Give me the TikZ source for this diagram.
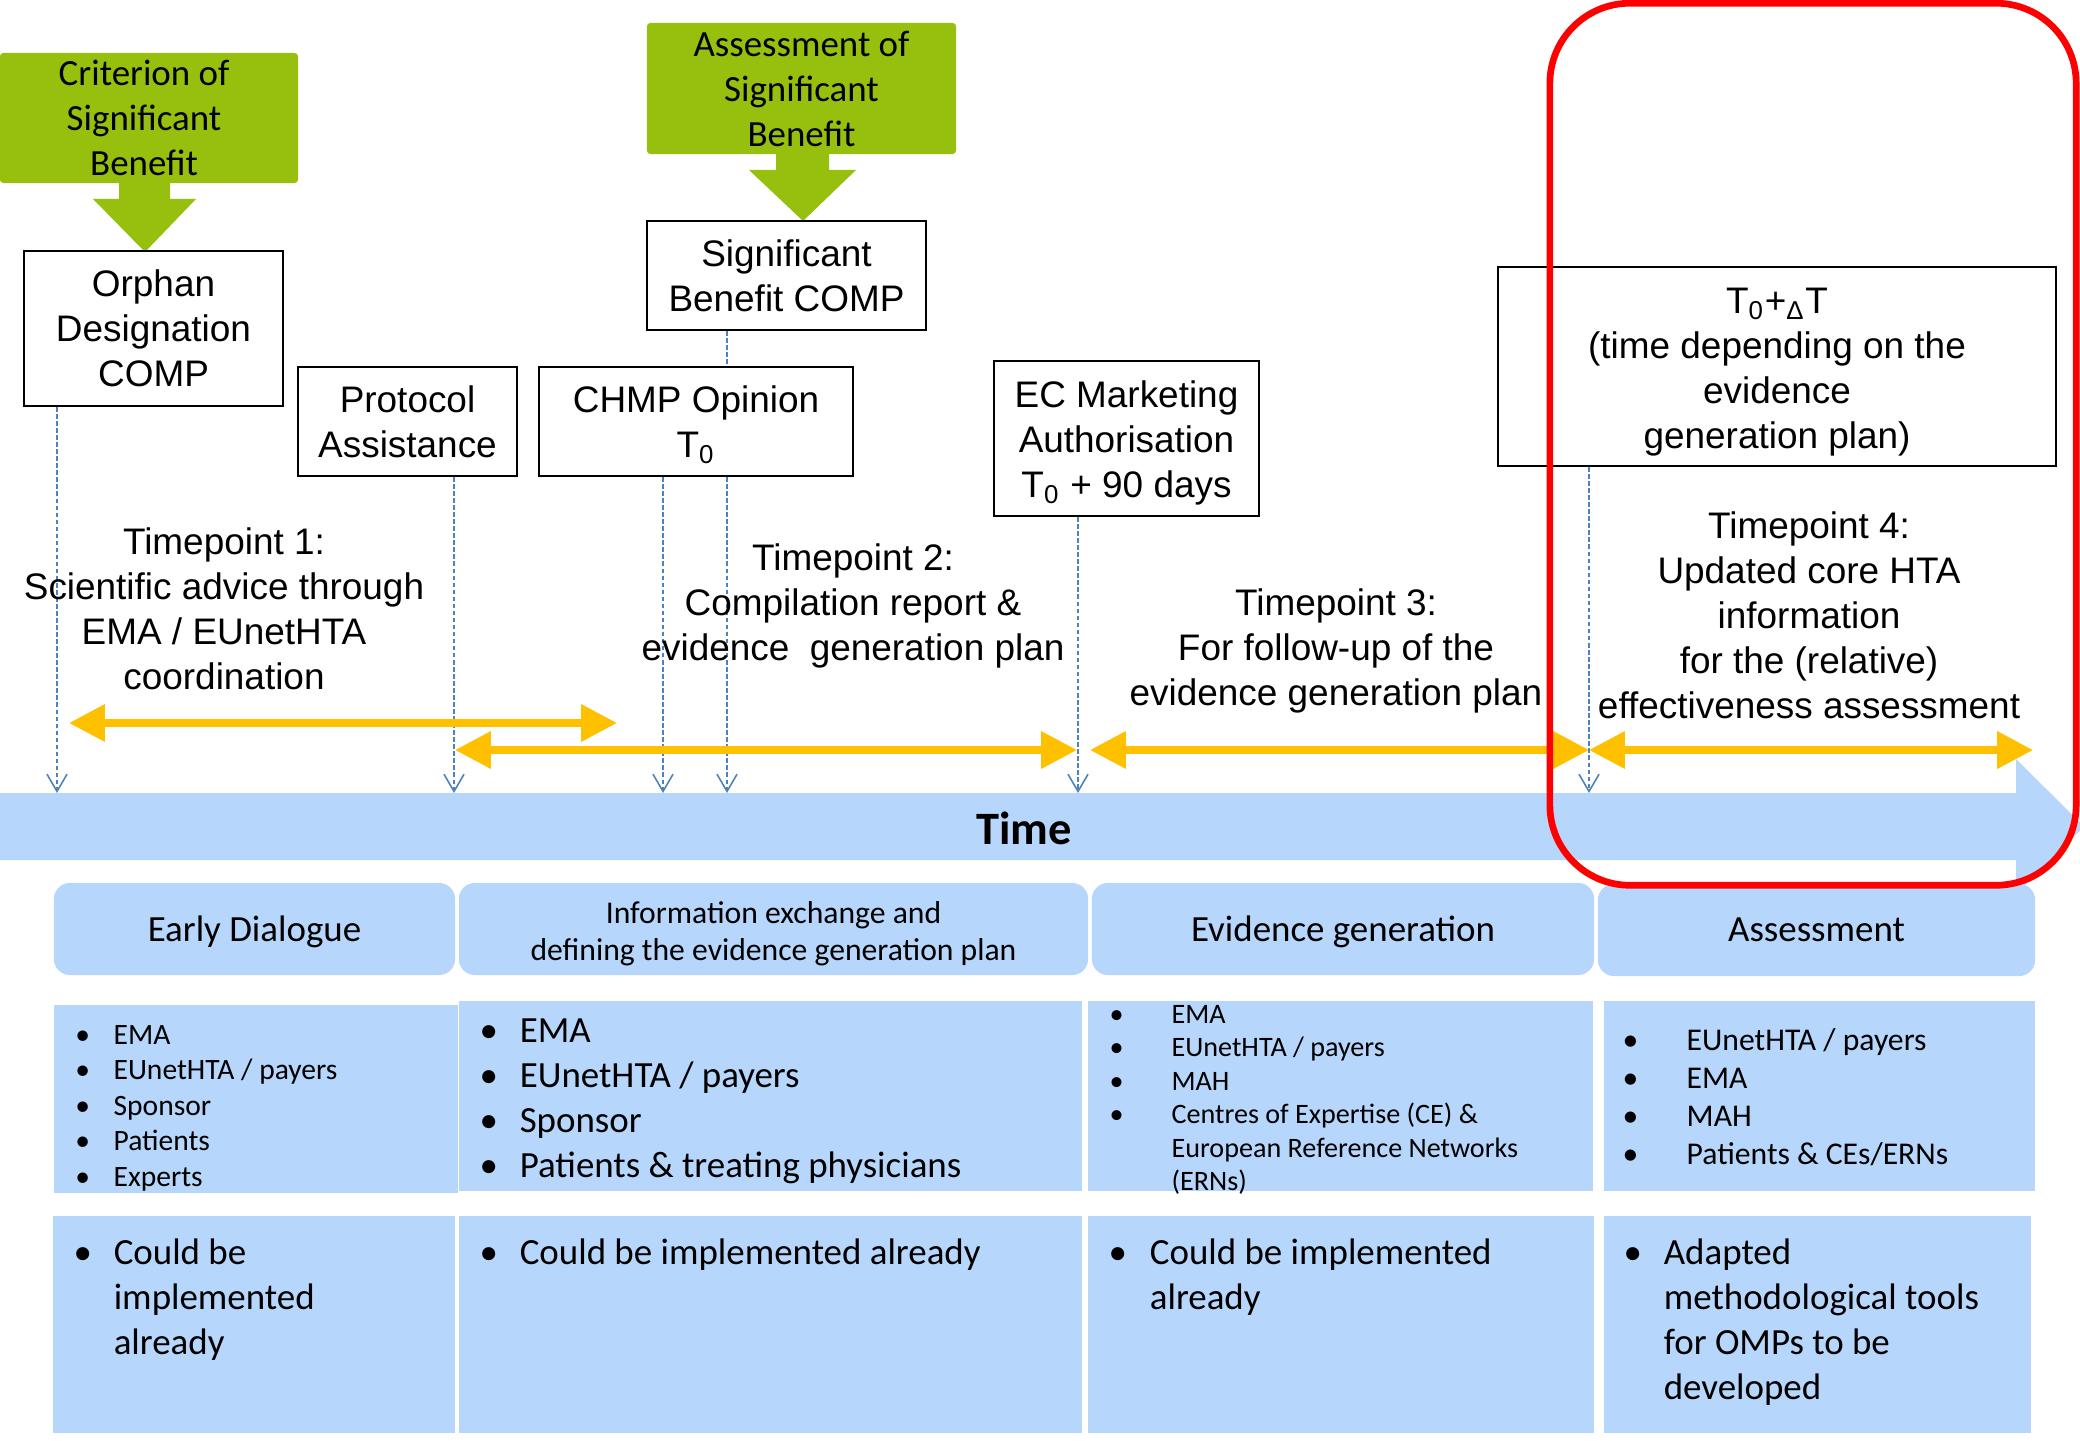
\documentclass[tikz,border=0pt]{standalone}
\usepackage{fontspec}
\setmainfont{Liberation Sans}
\newfontfamily\calib{Carlito}
\usetikzlibrary{arrows.meta}
\definecolor{sgreen}{HTML}{97BF0D}
\definecolor{lblue}{HTML}{B6D6FB}
\definecolor{yel}{HTML}{FFC000}
\definecolor{dblue}{HTML}{4F81BD}
\definecolor{rred}{HTML}{FF0000}
\newcommand{\upstrut}[1]{\rule{0pt}{#1}}
\newcommand{\shl}{\rule{2.8pt}{0pt}}
\tikzset{
  ar/.style={font=\fontsize{10.5pt}{12.8pt}\selectfont},
  cal/.style={font=\calib\fontsize{10.5pt}{12.8pt}\selectfont},
  wbox/.style={draw=black, line width=0.6pt, fill=white, align=center, inner sep=0pt, ar},
  gbox/.style={fill=sgreen, rounded corners=1pt, align=center, inner sep=0pt, cal},
  hbox/.style={fill=lblue, rounded corners=0.16cm, align=center, inner sep=0pt, cal},
  cbox/.style={fill=lblue, inner sep=0pt},
  garrow/.style={fill=sgreen},
  dasharrow/.style={draw=dblue, line width=0.45pt, dash pattern=on 1.3pt off 0.7pt, -{Straight Barb[length=4.9pt,width=5.7pt]}},
  dashline/.style={draw=dblue, line width=0.45pt, dash pattern=on 1.3pt off 0.7pt},
  yarrow/.style={draw=yel, line width=2.0pt, {Triangle[length=10.2pt,width=10.2pt]}-{Triangle[length=10.2pt,width=10.2pt]}},
  redbox/.style={draw=rred, line width=1.9pt, rounded corners=0.8cm, inner sep=0pt},
  tptext/.style={align=center, inner sep=0pt, ar},
  blist/.style={inner sep=0pt, anchor=base west},
}
\begin{document}
\begin{tikzpicture}[x=0.01cm, y=-0.01cm]
\useasboundingbox (0,0) rectangle (2080,1440);

% time bar
\fill[lblue] (0,793) -- (2016,793) -- (2016,759) -- (2084,826.5) -- (2016,894) -- (2016,860) -- (0,860) -- cycle;
\node[font=\calib\bfseries\fontsize{13.2pt}{15pt}\selectfont, inner sep=0pt] (time) at (1024,828) {Time};

% anchor coordinates on the time bar
\coordinate (a1) at (57,793);
\coordinate (a2) at (454,793);
\coordinate (a3) at (663,793);
\coordinate (a4) at (727,793);
\coordinate (a5) at (1078,793);
\coordinate (a6) at (1589,793);

% green boxes and arrows
\node[gbox, minimum width=2.98cm, minimum height=1.30cm] (g1) at (149,118) {Criterion of\shl\\Significant\shl\\Benefit\shl};
\node[gbox, minimum width=3.09cm, minimum height=1.31cm] (g2) at (801.5,88.5) {Assessment of\\Significant\\Benefit};
\fill[garrow] (119,182) -- (170,182) -- (170,199) -- (196,199) -- (145,252) -- (93,199) -- (119,199) -- cycle;
\fill[garrow] (776,153) -- (829,153) -- (829,170) -- (856,170) -- (803,221) -- (749,170) -- (776,170) -- cycle;

% milestone boxes
\node[wbox, minimum width=2.59cm, minimum height=1.55cm] (orph) at (153.5,328.5) {Orphan\\Designation\\COMP};
\node[wbox, minimum width=2.19cm, minimum height=1.09cm] (prot) at (407.5,421.5) {Protocol\\Assistance};
\node[wbox, minimum width=2.79cm, minimum height=1.09cm] (sigb) at (786.5,275.5) {Significant\\Benefit COMP};
\node[wbox, minimum width=3.14cm, minimum height=1.09cm] (chmp) at (696,421.5) {\upstrut{9.5pt}CHMP Opinion\\T\textsubscript{0}};
\node[wbox, minimum width=2.65cm, minimum height=1.55cm] (ecma) at (1126.5,438.5) {\upstrut{10pt}EC Marketing\\Authorisation\\T\textsubscript{0} + 90 days};
\node[wbox, minimum width=5.58cm, minimum height=1.99cm] (tdel) at (1777,366.5) {\upstrut{10.6pt}T\textsubscript{0}+\textsubscript{Δ}T\\(time depending on the\\evidence\\generation plan)};

% dashed connectors
\draw[dasharrow] (a1 |- orph.south) -- (a1);
\draw[dasharrow] (a2 |- prot.south) -- (a2);
\draw[dasharrow] (a3 |- chmp.south) -- (a3);
\draw[dashline] (a4 |- sigb.south) -- (a4 |- chmp.north);
\draw[dasharrow] (a4 |- chmp.south) -- (a4);
\draw[dasharrow] (a5 |- ecma.south) -- (a5);
\draw[dasharrow] (a6 |- tdel.south) -- (a6);

% timepoint texts
\node[tptext] (tp1) at (224,609) {Timepoint 1:\\Scientific advice through\\EMA / EUnetHTA\\coordination};
\node[tptext] (tp2) at (853,606) {Timepoint 2:\\Compilation report \&\\evidence\ \ generation plan};
\node[tptext] (tp3) at (1336,651) {Timepoint 3:\\For follow-up of the\\evidence generation plan};
\node[tptext] (tp4) at (1809,615.5) {Timepoint 4:\\Updated core HTA\\information\\for the (relative)\\effectiveness assessment};

% yellow period arrows
\coordinate (y1l) at (69,723);   \coordinate (y1r) at (617,723);
\coordinate (y2l) at (455,750);  \coordinate (y2r) at (1077,750);
\coordinate (y3l) at (1090,750); \coordinate (y3r) at (1589,750);
\coordinate (y4l) at (1589,750); \coordinate (y4r) at (2033,750);
\draw[yarrow] (y1l) -- (y1r);
\draw[yarrow] (y2l) -- (y2r);
\draw[yarrow] (y3l) -- (y3r);
\draw[yarrow] (y4l) -- (y4r);

% phase headers
\node[hbox, text depth=0pt, minimum width=4.01cm, minimum height=0.92cm] (h1) at (254.5,929) {Early Dialogue};
\node[hbox, minimum width=6.29cm, minimum height=0.92cm, font=\calib\fontsize{9pt}{10.5pt}\selectfont] (h2) at (773.5,929) {\upstrut{8.9pt}Information exchange and\\defining the evidence generation plan};
\node[hbox, text depth=0pt, minimum width=5.02cm, minimum height=0.92cm] (h3) at (1343,929) {Evidence generation};
\node[hbox, text depth=0pt, minimum width=4.37cm, minimum height=0.92cm] (h4) at (1816.5,930) {Assessment};

% participant boxes
\node[cbox, minimum width=4.04cm, minimum height=1.88cm] (p1) at (256,1099) {};
\node[cbox, minimum width=6.23cm, minimum height=1.90cm] (p2) at (770.5,1096) {};
\node[cbox, minimum width=5.05cm, minimum height=1.90cm] (p3) at (1340.5,1096) {};
\node[cbox, minimum width=4.31cm, minimum height=1.90cm] (p4) at (1819.5,1096) {};

% implementation boxes
\node[cbox, minimum width=4.02cm, minimum height=2.17cm] (b1) at (254,1324.5) {};
\node[cbox, minimum width=6.23cm, minimum height=2.17cm] (b2) at (770.5,1324.5) {};
\node[cbox, minimum width=5.06cm, minimum height=2.17cm] (b3) at (1341,1324.5) {};
\node[cbox, minimum width=4.27cm, minimum height=2.17cm] (b4) at (1817.5,1324.5) {};

% participant lists
\node[blist, font=\calib\fontsize{8.4pt}{10.1pt}\selectfont] (p1t) at (74.6,1044) {\begin{tabular}[t]{@{}p{10.9pt}@{}l@{}}\textbullet&EMA\\\textbullet&EUnetHTA / payers\\\textbullet&Sponsor\\\textbullet&Patients\\\textbullet&Experts\end{tabular}};
\node[blist, font=\calib\fontsize{10.5pt}{12.8pt}\selectfont] (p2t) at (479,1042) {\begin{tabular}[t]{@{}p{11.4pt}@{}l@{}}\textbullet&EMA\\\textbullet&EUnetHTA / payers\\\textbullet&Sponsor\\\textbullet&Patients \& treating physicians\end{tabular}};
\node[blist, font=\calib\fontsize{8pt}{9.55pt}\selectfont] (p3t) at (1109,1023) {\begin{tabular}[t]{@{}p{17.6pt}@{}l@{}}\textbullet&EMA\\\textbullet&EUnetHTA / payers\\\textbullet&MAH\\\textbullet&Centres of Expertise (CE) \&\\&European Reference Networks\\&(ERNs)\end{tabular}};
\node[blist, font=\calib\fontsize{9pt}{10.8pt}\selectfont] (p4t) at (1622,1050.5) {\begin{tabular}[t]{@{}p{18.2pt}@{}l@{}}\textbullet&EUnetHTA / payers\\\textbullet&EMA\\\textbullet&MAH\\\textbullet&Patients \& CEs/ERNs\end{tabular}};

% implementation lists
\node[blist, font=\calib\fontsize{10.5pt}{12.8pt}\selectfont] (b1t) at (73,1264) {\begin{tabular}[t]{@{}p{11.4pt}@{}l@{}}\textbullet&Could be\\&implemented\\&already\end{tabular}};
\node[blist, font=\calib\fontsize{10.5pt}{12.8pt}\selectfont] (b2t) at (479,1264) {\begin{tabular}[t]{@{}p{11.4pt}@{}l@{}}\textbullet&Could be implemented already\end{tabular}};
\node[blist, font=\calib\fontsize{10.5pt}{12.8pt}\selectfont] (b3t) at (1108,1264) {\begin{tabular}[t]{@{}p{11.7pt}@{}l@{}}\textbullet&Could be implemented\\&already\end{tabular}};
\node[blist, font=\calib\fontsize{10.5pt}{12.8pt}\selectfont] (b4t) at (1623,1264) {\begin{tabular}[t]{@{}p{11.4pt}@{}l@{}}\textbullet&Adapted\\&methodological tools\\&for OMPs to be\\&developed\end{tabular}};

% highlighted region
\node[redbox, minimum width=5.26cm, minimum height=8.815cm] (focus) at (1813,444.25) {};
\end{tikzpicture}
\end{document}
